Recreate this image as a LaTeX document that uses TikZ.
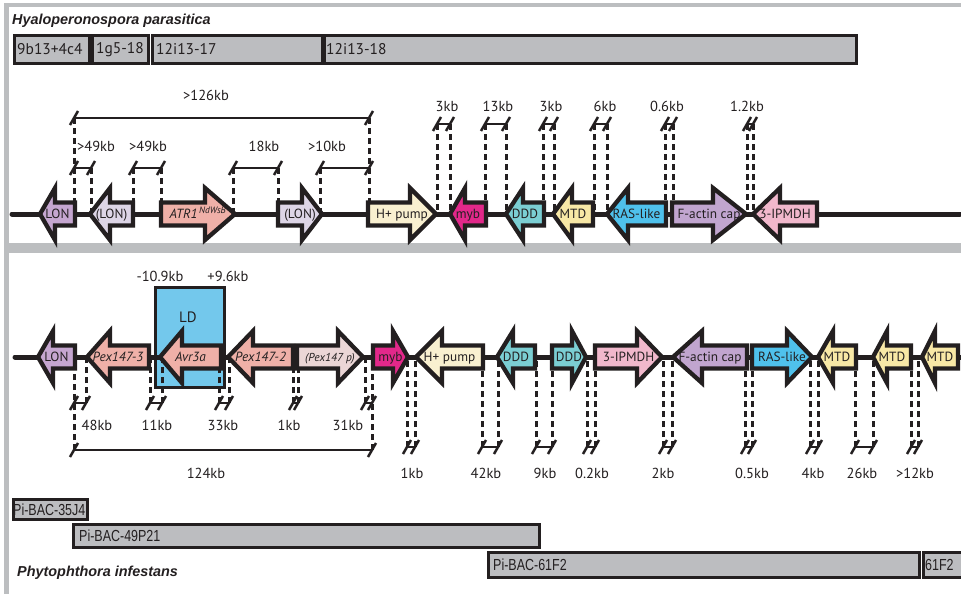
\documentclass[tikz,border=0pt]{standalone}
\usepackage{fontspec}
\setmainfont{PT Sans}
\newfontfamily\titlefont{Liberation Sans}
\newfontfamily\bacfont[FakeStretch=0.78]{Liberation Sans}
\definecolor{ink}{HTML}{231F20}
\definecolor{framegray}{HTML}{BCBEC0}
\definecolor{bacgray}{HTML}{BCBDC0}
\definecolor{lonpurple}{HTML}{C5A6D0}
\definecolor{lonlight}{HTML}{DDD5E6}
\definecolor{salmonpink}{HTML}{EFB0A8}
\definecolor{pexlight}{HTML}{EBD6D6}
\definecolor{creamy}{HTML}{F9F0D0}
\definecolor{mybmag}{HTML}{E2288A}
\definecolor{dddteal}{HTML}{7BCED3}
\definecolor{mtdyellow}{HTML}{F8E8A6}
\definecolor{rasblue}{HTML}{4FC1EC}
\definecolor{factin}{HTML}{C1A5CF}
\definecolor{ipmdh}{HTML}{F1B8CC}
\definecolor{ldblue}{HTML}{73C8EC}
\tikzset{
  every node/.style={inner sep=0pt, text=ink},
  axisline/.style={draw=ink, line width=5pt, line cap=round},
  genebox/.style={draw=ink, line width=4.3pt, line join=miter},
  genetext/.style={anchor=base, font=\fontsize{13.3}{15}\selectfont},
  dashline/.style={draw=ink, line width=3pt, dash pattern=on 6pt off 4pt},
  barline/.style={draw=ink, line width=2pt},
  tickline/.style={draw=ink, line width=2.5pt},
  kbtext/.style={anchor=base, font=\fontsize{14.5}{16}\selectfont},
  bacbox/.style={draw=ink, fill=bacgray, line width=3pt, anchor=north west},
  bactext/.style={anchor=west, font=\fontsize{15.5}{17}\selectfont},
  pibactext/.style={anchor=west, font=\bacfont\fontsize{16}{18}\selectfont},
  titletext/.style={anchor=base west, font=\titlefont\bfseries\itshape\fontsize{14.4}{16}\selectfont},
  ldbox/.style={draw=ink, fill=ldblue, line width=3pt},
}
% left-pointing gene: name, Y, tip, head base, end, colour, label
\newcommand{\geneL}[7]{%
  \draw[genebox, fill=#6] (#3,#2) -- (#4,#2-26) -- (#4,#2-11.5) -- (#5,#2-11.5)
     -- (#5,#2+11.5) -- (#4,#2+11.5) -- (#4,#2+26) -- cycle;
  \node[genetext] (#1) at ({(#3+#5)/2},#2+4.6) {#7};}
% right-pointing gene: name, Y, start, head base, tip, colour, label
\newcommand{\geneR}[7]{%
  \draw[genebox, fill=#6] (#3,#2-11.5) -- (#4,#2-11.5) -- (#4,#2-26) -- (#5,#2)
     -- (#4,#2+26) -- (#4,#2+11.5) -- (#3,#2+11.5) -- cycle;
  \node[genetext] (#1) at ({(#3+#5)/2},#2+4.6) {#7};}
% distance bar: name, x1, x2, y
\newcommand{\gapbar}[4]{%
  \coordinate (#1l) at (#2,#4);
  \coordinate (#1r) at (#3,#4);
  \draw[barline] (#1l) -- (#1r);
  \draw[tickline] ([shift={(-4,7)}]#1l) -- ([shift={(4,-7)}]#1l);
  \draw[tickline] ([shift={(-4,7)}]#1r) -- ([shift={(4,-7)}]#1r);}
\newcommand{\drop}[2]{\draw[dashline] (#1) -- (#1 |- #2);}
\begin{document}
\begin{tikzpicture}[x=1pt, y=-1pt]
\useasboundingbox (0,0) rectangle (961,594);
\clip (0,0) rectangle (961,594);
\fill[white] (0,0) rectangle (961,594);
% frame
\fill[framegray] (4,3) rectangle (961,7);
\fill[framegray] (4,3) rectangle (9,594);
\fill[framegray] (4,243) rectangle (961,253);

% ---------- Hyaloperonospora ----------
\node[titletext] (hpt) at (12,25) {Hyaloperonospora parasitica};
\node[bacbox, minimum width=75pt, minimum height=28pt] (hb1) at (13,34) {};
\node[bacbox, minimum width=56pt, minimum height=28pt] (hb2) at (91,34) {};
\node[bacbox, minimum width=170pt, minimum height=28pt] (hb3) at (151,34) {};
\node[bacbox, minimum width=532pt, minimum height=28pt] (hb4) at (323,34) {};
\node[bactext] (hb1t) at ([xshift=4pt]hb1.west) {9b13+4c4};
\node[bactext] (hb2t) at ([xshift=5pt]hb2.west) {1g5-18};
\node[bactext] (hb3t) at ([xshift=5pt]hb3.west) {12i13-17};
\node[bactext] (hb4t) at ([xshift=3pt]hb4.west) {12i13-18};

\coordinate (tA) at (12,214);
\coordinate (tB) at (960,214);
\draw[axisline] (tA) -- (tB);

\gapbar{big}{74}{369}{118}
\gapbar{ga}{74}{91}{168}
\gapbar{gb}{133}{161}{168}
\gapbar{gc}{233}{278}{168}
\gapbar{gd}{320}{369}{168}
\gapbar{ha}{437}{450}{124}
\gapbar{hb}{485}{506}{124}
\gapbar{hc}{543}{554}{124}
\gapbar{hd}{594}{607}{124}
\gapbar{he}{665}{673}{124}
\gapbar{hf}{747}{753}{124}
\foreach \c in {bigl,bigr,gar,gbl,gbr,gcl,gcr,gdl,hal,har,hbl,hbr,hcl,hcr,hdl,hdr,hel,her,hfl,hfr}{\drop{\c}{tA}}

\node[kbtext] (k126) at (206,100) {>126kb};
\node[kbtext] (k49a) at (96,151) {>49kb};
\node[kbtext] (k49b) at (148,151) {>49kb};
\node[kbtext] (k18) at (264,151) {18kb};
\node[kbtext] (k10) at (327,151) {>10kb};
\node[kbtext] (k3a) at (447,111) {3kb};
\node[kbtext] (k13) at (498,111) {13kb};
\node[kbtext] (k3b) at (551,111) {3kb};
\node[kbtext] (k6) at (605,111) {6kb};
\node[kbtext] (k06) at (667,111) {0.6kb};
\node[kbtext] (k12) at (747,111) {1.2kb};

\geneL{tg1}{214}{40}{55}{75}{lonpurple}{LON}
\geneL{tg2}{214}{90}{110}{133}{lonlight}{(LON)}
\geneR{tg3}{214}{161}{205}{235}{salmonpink}{\textit{ATR1}\textsuperscript{\,\textit{NdWsB}}}
\geneR{tg4}{214}{278}{302}{322}{lonlight}{(LON)}
\geneR{tg5}{214}{368}{410}{436}{creamy}{H+ pump}
\geneL{tg6}{214}{450}{465}{486}{mybmag}{myb}
\geneL{tg7}{214}{506}{523}{544}{dddteal}{DDD}
\geneL{tg8}{214}{553}{572}{593}{mtdyellow}{MTD}
\geneL{tg9}{214}{607}{628}{666}{rasblue}{RAS-like}
\geneR{tg10}{214}{672}{713}{746}{factin}{F-actin cap}
\geneL{tg11}{214}{753}{780}{817}{ipmdh}{3-IPMDH}

% ---------- Phytophthora ----------
\node[ldbox, minimum width=69pt, minimum height=100pt] (LD) at (189.5,337) {};
\node[genetext, font=\fontsize{15}{17}\selectfont] (LDt) at (188,322) {LD};
\node[kbtext] (kminus) at (160,281) {-10.9kb};
\node[kbtext] (kplus) at (228,281) {+9.6kb};

\coordinate (bA) at (15,357);
\coordinate (bB) at (961,357);
\draw[axisline] (bA) -- (bB);

\gapbar{ka}{74}{86}{403}
\gapbar{kb}{150}{162}{403}
\gapbar{kc}{219}{229}{403}
\gapbar{kd}{293}{298}{403}
\gapbar{ke}{365}{372}{403}
\gapbar{kbig}{74}{372}{450}
\gapbar{ma}{407}{415}{447}
\gapbar{mb}{482}{498}{447}
\gapbar{mc}{536}{552}{447}
\gapbar{md}{587}{595}{447}
\gapbar{me}{663}{672}{447}
\gapbar{mf}{745}{752}{447}
\gapbar{mg}{810}{818}{447}
\gapbar{mh}{855}{873}{447}
\gapbar{mi}{911}{918}{447}
\foreach \c in {kbigl,kbigr,kar,kbl,kbr,kcl,kcr,kdl,kdr,kel,mal,mar,mbl,mbr,mcl,mcr,mdl,mdr,mel,mer,mfl,mfr,mgl,mgr,mhl,mhr,mil,mir}{\drop{\c}{bA}}

\node[kbtext] (b48) at (97,430) {48kb};
\node[kbtext] (b11) at (157,430) {11kb};
\node[kbtext] (b33) at (223,430) {33kb};
\node[kbtext] (b1a) at (289,430) {1kb};
\node[kbtext] (b31) at (348,430) {31kb};
\node[kbtext] (b124) at (206,478) {124kb};
\node[kbtext] (c1) at (412,478) {1kb};
\node[kbtext] (c42) at (486,478) {42kb};
\node[kbtext] (c9) at (545,478) {9kb};
\node[kbtext] (c02) at (592,478) {0.2kb};
\node[kbtext] (c2) at (663,478) {2kb};
\node[kbtext] (c05) at (752,478) {0.5kb};
\node[kbtext] (c4) at (813,478) {4kb};
\node[kbtext] (c26) at (862,478) {26kb};
\node[kbtext] (c12) at (915,478) {>12kb};

\geneL{bg1}{357}{38}{53}{75}{lonpurple}{LON}
\geneL{bg2}{357}{87}{110}{149}{salmonpink}{\textit{Pex147-3}}
\geneL{bg3}{357}{160}{182}{221}{salmonpink}{\textit{Avr3a}}
\geneL{bg4}{357}{228}{253}{293}{salmonpink}{\textit{Pex147-2}}
\geneR{bg5}{357}{297}{338}{363}{pexlight}{\fontsize{11.5}{13}\selectfont\textit{(Pex147 p)}}
\geneR{bg6}{357}{373}{393}{408}{mybmag}{myb}
\geneL{bg7}{357}{416}{442}{483}{creamy}{H+ pump}
\geneL{bg8}{357}{497}{513}{535}{dddteal}{DDD}
\geneR{bg9}{357}{552}{572}{586}{dddteal}{DDD}
\geneR{bg10}{357}{595}{637}{662}{ipmdh}{3-IPMDH}
\geneL{bg11}{357}{673}{702}{747}{factin}{F-actin cap}
\geneR{bg12}{357}{752}{787}{812}{rasblue}{RAS-like}
\geneL{bg13}{357}{818}{833}{856}{mtdyellow}{MTD}
\geneL{bg14}{357}{873}{887}{911}{mtdyellow}{MTD}
\geneL{bg15}{357}{922}{935}{958}{mtdyellow}{MTD}

\node[bacbox, minimum width=74pt, minimum height=20pt] (pb1) at (12,498) {};
\node[bacbox, minimum width=466pt, minimum height=23pt] (pb2) at (72,523) {};
\node[bacbox, minimum width=431pt, minimum height=25pt] (pb3) at (487,551) {};
\node[bacbox, minimum width=45pt, minimum height=25pt] (pb4) at (922,551) {};
\node[pibactext] (pb1t) at ([xshift=1pt]pb1.west) {Pi-BAC-35J4};
\node[pibactext] (pb2t) at ([xshift=7pt]pb2.west) {Pi-BAC-49P21};
\node[pibactext] (pb3t) at ([xshift=6pt]pb3.west) {Pi-BAC-61F2};
\node[pibactext] (pb4t) at ([xshift=3pt]pb4.west) {61F2};
\node[titletext] (pit) at (17,576) {Phytophthora infestans};
\end{tikzpicture}
\end{document}
